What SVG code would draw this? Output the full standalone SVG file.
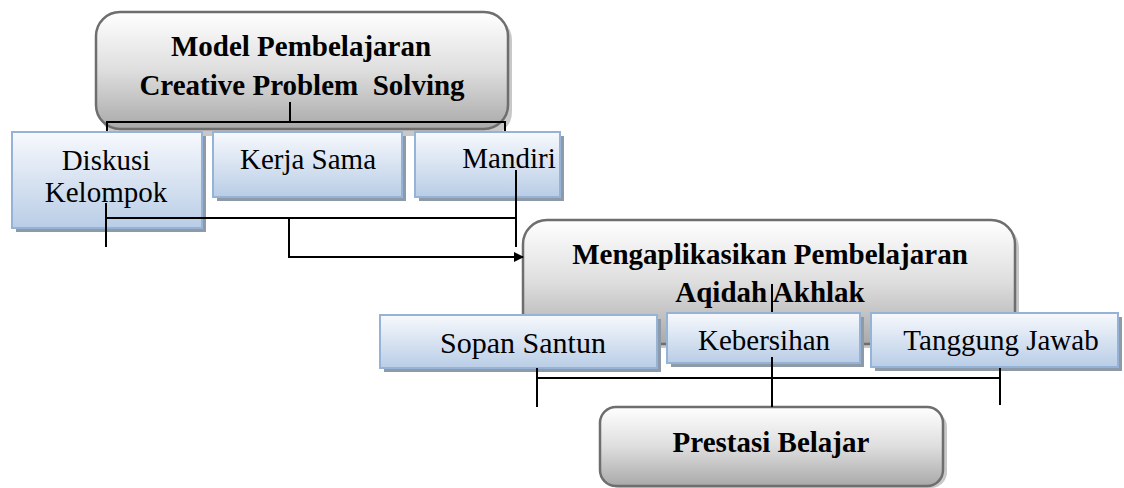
<svg xmlns="http://www.w3.org/2000/svg" width="1124" height="488" viewBox="0 0 1124 488">
<defs>
<linearGradient id="gGray" x1="0" y1="0" x2="0" y2="1">
<stop offset="0" stop-color="#ffffff"/>
<stop offset="0.5" stop-color="#dedede"/>
<stop offset="1" stop-color="#a9a9a9"/>
</linearGradient>
<linearGradient id="gBlue" x1="0" y1="0" x2="0" y2="1">
<stop offset="0" stop-color="#f7f9fd"/>
<stop offset="1" stop-color="#b9cde6"/>
</linearGradient>
<marker id="arr" markerWidth="10" markerHeight="10" refX="9" refY="5" orient="auto" markerUnits="userSpaceOnUse" viewBox="0 0 10 10">
<path d="M0,0 L10,5 L0,10 z" fill="#000"/>
</marker>
</defs>
<style>
.main{fill:url(#gGray);stroke:#6e6e6e;stroke-width:2.5}
.mshadow{fill:#c8c8c8}
.sub{fill:url(#gBlue);stroke:#95b3d7;stroke-width:2}
.shadow{fill:#8e9aa8}
.tb{font-family:"Liberation Serif","Times New Roman",serif;font-weight:bold;font-size:29px;fill:#000;text-anchor:middle}
.tr{font-family:"Liberation Serif","Times New Roman",serif;font-size:29px;fill:#000;text-anchor:middle}
.c{stroke:#000;stroke-width:2;fill:none}
</style>
<rect width="1124" height="488" fill="#fff"/>

<g id="node-model">
<rect class="mshadow" x="100" y="16" width="412" height="120" rx="24"/>
<rect class="main" x="96" y="12" width="412" height="117" rx="24"/>
<text class="tb" x="301" y="56">Model Pembelajaran</text>
<text class="tb" x="302" y="95" xml:space="preserve">Creative Problem  Solving</text>
</g>

<g id="node-aplikasi">
<rect class="mshadow" x="527" y="224" width="492" height="124" rx="24"/>
<rect class="main" x="523" y="220" width="492" height="124" rx="24"/>
<text class="tb" x="770" y="264">Mengaplikasikan Pembelajaran</text>
<text class="tb" x="770" y="302">Aqidah Akhlak</text>
</g>

<g id="node-diskusi">
<rect class="shadow" x="16" y="136" width="190" height="96"/>
<rect class="sub" x="12" y="132" width="190" height="96"/>
<text class="tr" x="106" y="170">Diskusi</text>
<text class="tr" x="106" y="202">Kelompok</text>
</g>

<g id="node-kerjasama">
<rect class="shadow" x="217" y="136" width="189" height="65"/>
<rect class="sub" x="213" y="132" width="189" height="65"/>
<text class="tr" x="308" y="169">Kerja Sama</text>
</g>

<g id="node-mandiri">
<rect class="shadow" x="419" y="136" width="145" height="65"/>
<rect class="sub" x="415" y="132" width="145" height="65"/>
<text class="tr" x="509" y="168">Mandiri</text>
</g>

<g id="node-sopan">
<rect class="shadow" x="384" y="319" width="277" height="53"/>
<rect class="sub" x="380" y="315" width="277" height="53"/>
<text class="tr" x="523" y="353" style="font-size:30px">Sopan Santun</text>
</g>

<g id="node-kebersihan">
<rect class="shadow" x="671" y="317" width="193" height="50"/>
<rect class="sub" x="667" y="313" width="193" height="50"/>
<text class="tr" x="764" y="350">Kebersihan</text>
</g>

<g id="node-tanggung">
<rect class="shadow" x="875" y="317" width="247" height="54"/>
<rect class="sub" x="871" y="313" width="247" height="54"/>
<text class="tr" x="1001" y="350">Tanggung Jawab</text>
</g>

<g id="node-prestasi">
<rect class="mshadow" x="604" y="411" width="343" height="77" rx="16"/>
<rect class="main" x="600" y="407" width="343" height="79" rx="16"/>
<text class="tb" x="771" y="452">Prestasi Belajar</text>
</g>

<g id="connectors">
<path class="c" d="M290,102 V122"/>
<path class="c" d="M107,131 V122 H505 V131"/>
<path class="c" d="M106,203 V247"/>
<path class="c" d="M106,218 H516"/>
<path class="c" d="M516,170 V247"/>
<path class="c" d="M289,218 V257 H523" marker-end="url(#arr)"/>
<path class="c" d="M772,284 V312"/>
<path class="c" d="M772,357 V407"/>
<path class="c" d="M537,368 V407"/>
<path class="c" d="M1000,368 V405"/>
<path class="c" d="M537,378 H1000"/>
</g>
</svg>
